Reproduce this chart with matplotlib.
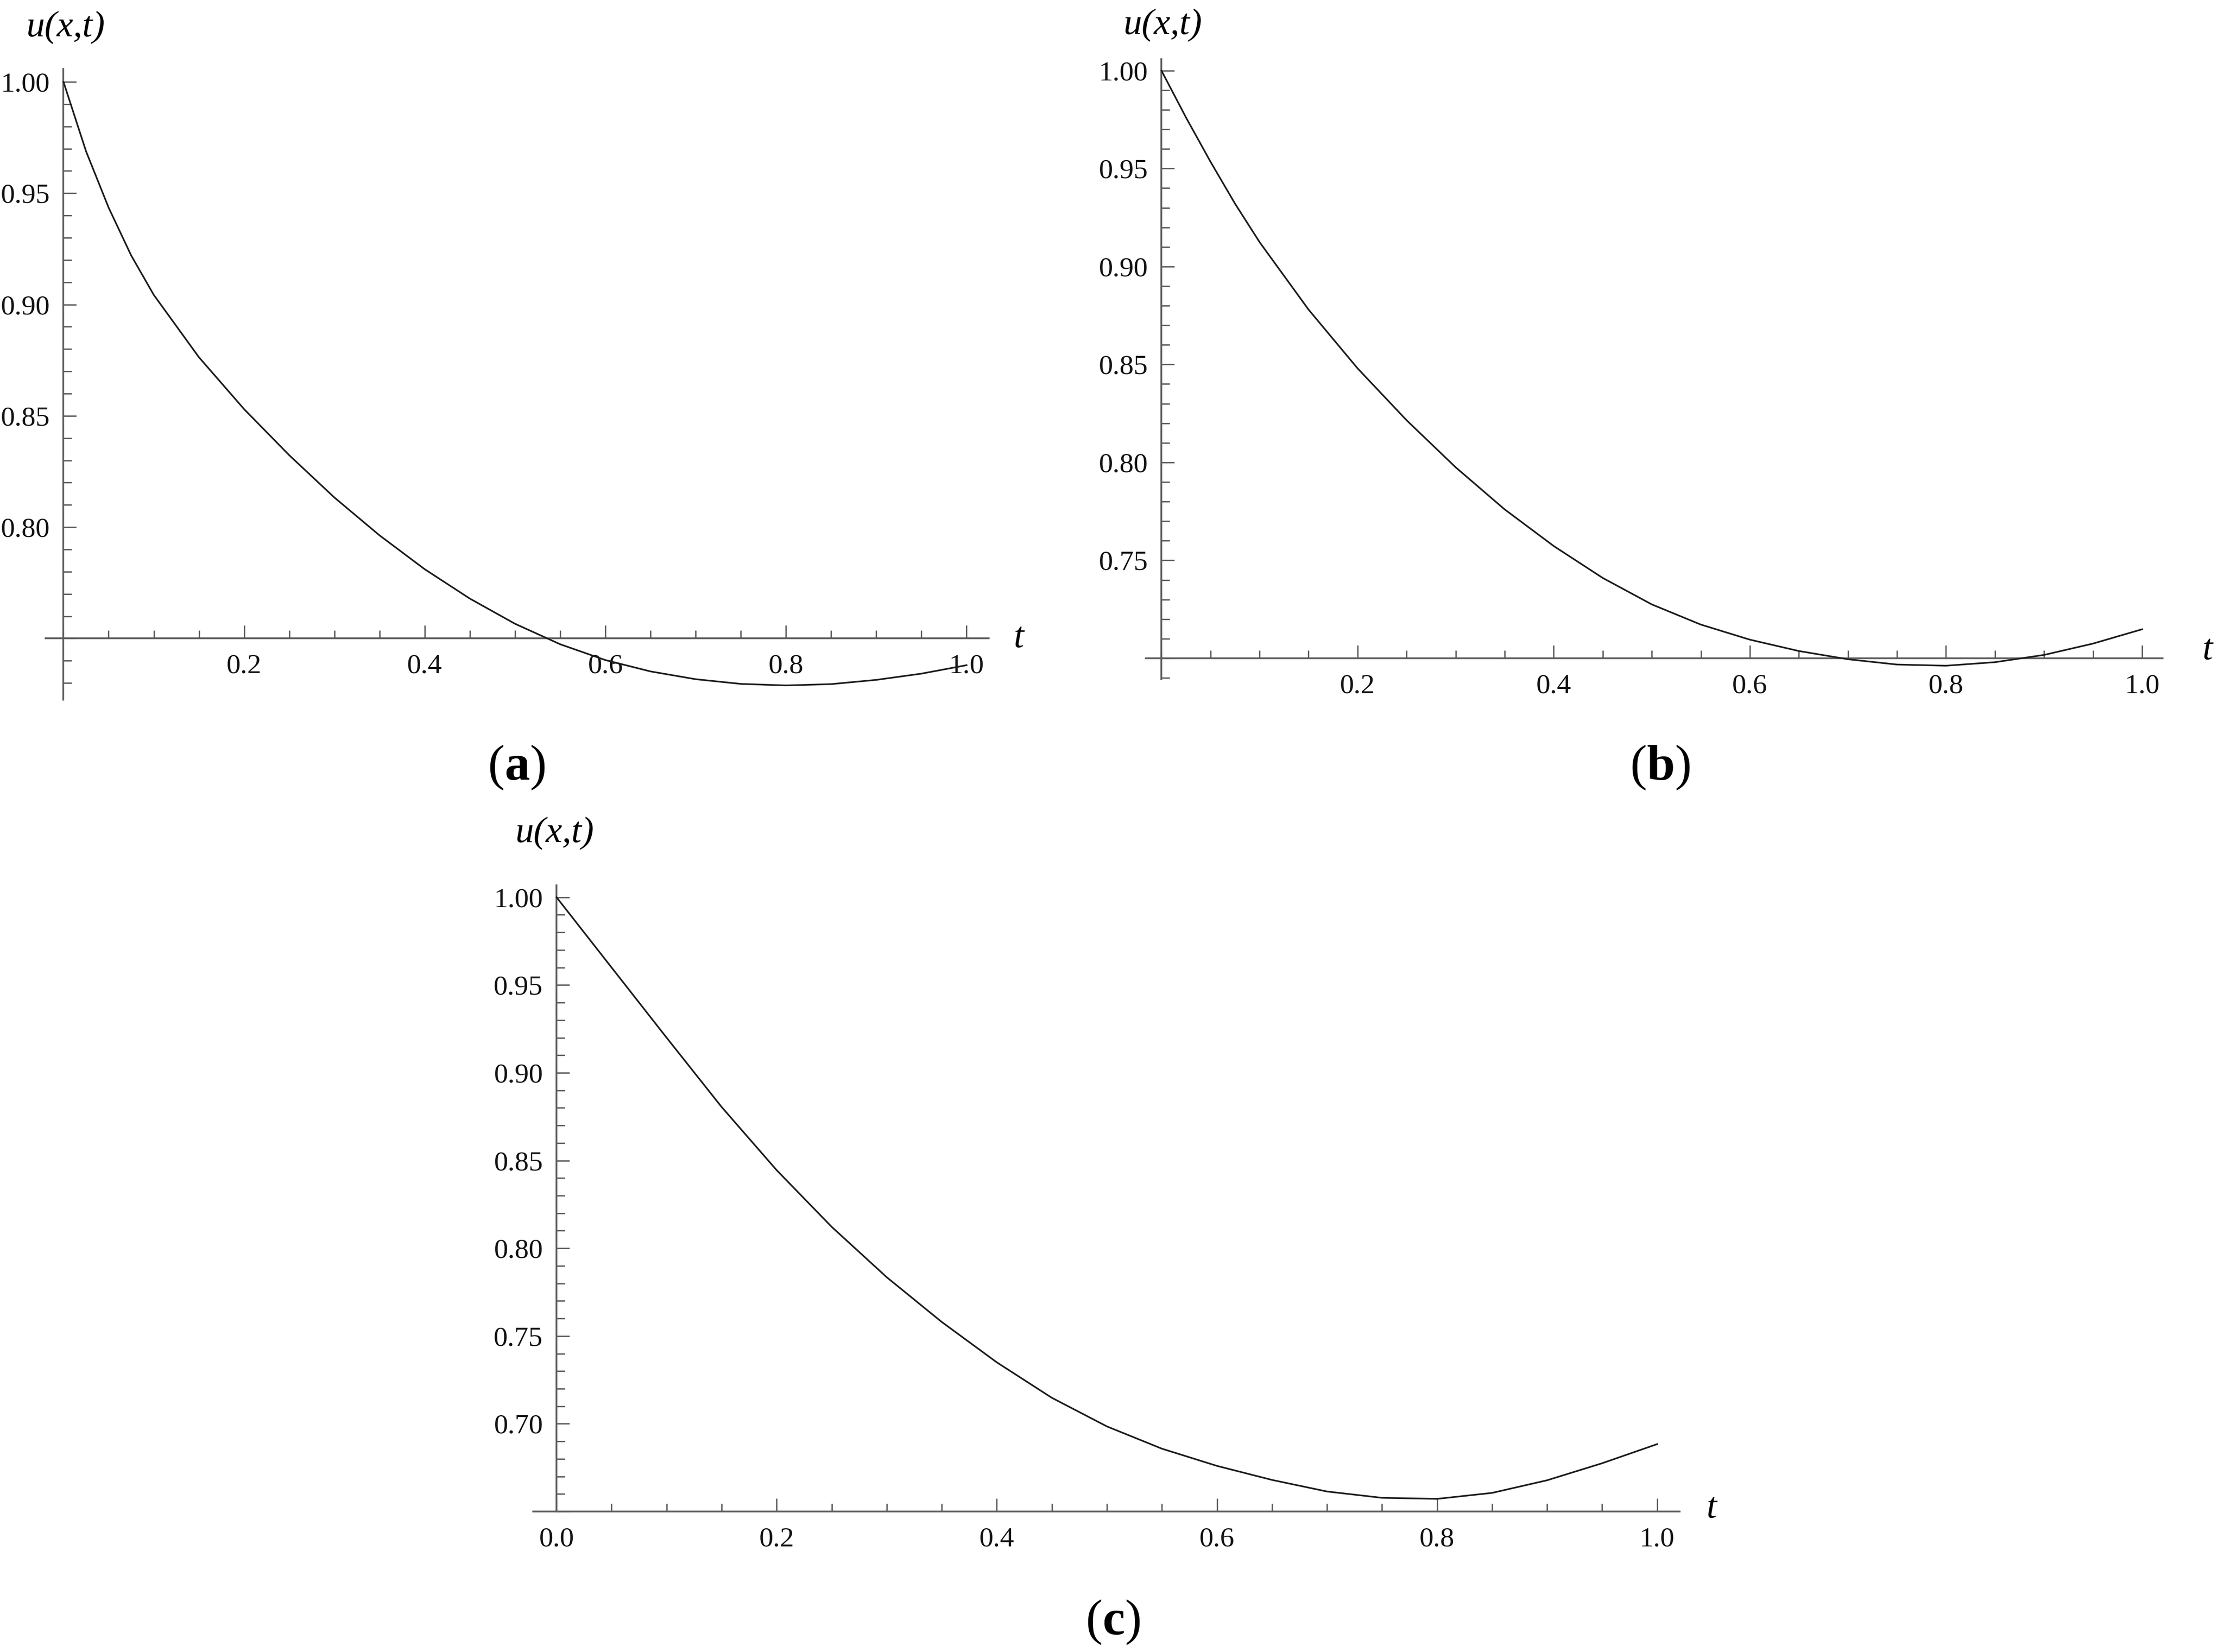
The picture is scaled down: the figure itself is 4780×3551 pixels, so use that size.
import matplotlib
matplotlib.use("Agg")
import matplotlib.pyplot as plt
import numpy as np
from matplotlib.ticker import MultipleLocator

# sample times (same grid for all three panels)
t_vals = [0.0, 0.025, 0.05, 0.075, 0.10, 0.15, 0.20, 0.25, 0.30, 0.35, 0.40, 0.45,
          0.50, 0.55, 0.60, 0.65, 0.70, 0.75, 0.80, 0.85, 0.90, 0.95, 1.00]

# u(x,t)
u_a = [1.000, 0.9688, 0.9435, 0.9220, 0.9043, 0.8763, 0.8530, 0.8323, 0.8133, 0.7963,
       0.7811, 0.7679, 0.7566, 0.7474, 0.7403, 0.7352, 0.7317, 0.7296, 0.7289, 0.7295,
       0.7314, 0.7342, 0.7380]
u_b = [1.000, 0.9761, 0.9535, 0.9321, 0.9125, 0.8780, 0.8480, 0.8215, 0.7975, 0.7760,
       0.7573, 0.7410, 0.7275, 0.7172, 0.7095, 0.7037, 0.6995, 0.6968, 0.6962, 0.6980,
       0.7017, 0.7075, 0.7148]
u_c = [1.000, 0.980, 0.960, 0.940, 0.920, 0.8805, 0.8445, 0.8122, 0.7835, 0.7580,
       0.7350, 0.7148, 0.6985, 0.6858, 0.6760, 0.6680, 0.6614, 0.6578, 0.6572, 0.6606,
       0.6678, 0.6775, 0.6884]

panel_names = ["a", "b", "c"]
x_label = "t"
y_label = "u(x,t)"

W, H = 4780, 3551
AXIS_GRAY = "#5e5e5e"

plt.rcParams['font.family'] = ['Liberation Serif', 'DejaVu Serif']
plt.rcParams['mathtext.fontset'] = 'custom'
plt.rcParams['mathtext.rm'] = 'Liberation Serif'
plt.rcParams['mathtext.bf'] = 'Liberation Serif:bold'
plt.rcParams['mathtext.it'] = 'Liberation Serif:italic'

fig = plt.figure(figsize=(W / 300, H / 300), dpi=300)


def fx(x):
    return x / W


def fy(y):
    return 1 - y / H


def make_panel(box, xlim, ylim, base, u, yticks, xticks, show_zero):
    # box is (left, top, right, bottom) in pixels
    left, top, right, bottom = box
    ax = fig.add_axes([fx(left), fy(bottom), (right - left) / W, (bottom - top) / H])
    ax.plot(t_vals, u, color='#1c1c1c', lw=0.85, clip_on=False, zorder=3,
            solid_joinstyle='round')
    ax.set_xlim(xlim)
    ax.set_ylim(ylim)
    ax.patch.set_visible(False)

    for s in ['top', 'right']:
        ax.spines[s].set_visible(False)
    ax.spines['left'].set_position(('data', 0))
    ax.spines['bottom'].set_position(('data', base))
    for s in ['left', 'bottom']:
        ax.spines[s].set_color(AXIS_GRAY)
        ax.spines[s].set_linewidth(0.9)

    ax.set_xticks(xticks)
    ax.set_xticklabels(['%.1f' % v if (v > 0 or show_zero) else '' for v in xticks])
    ax.set_yticks(yticks)
    ax.set_yticklabels(['%.2f' % v if abs(v - base) > 1e-9 else '' for v in yticks])
    ax.xaxis.set_minor_locator(MultipleLocator(0.05))
    ax.yaxis.set_minor_locator(MultipleLocator(0.01))

    ax.tick_params(which='both', direction='in', color=AXIS_GRAY, width=0.7,
                   labelsize=14.5, labelcolor='#111111')
    ax.tick_params(which='major', length=6.7)
    ax.tick_params(which='minor', length=4.2)
    ax.tick_params(axis='x', pad=8)
    ax.tick_params(axis='y', pad=7)
    return ax


# panel (a)
make_panel((98, 147.7, 2125, 1504), (-0.0198, 1.0245), (0.7225, 1.0059), 0.75, u_a,
           [0.75, 0.80, 0.85, 0.90, 0.95, 1.00], [0.2, 0.4, 0.6, 0.8, 1.0], False)
# panel (b)
make_panel((2463, 127, 4648, 1460), (-0.0158, 1.0209), (0.6893, 1.0059), 0.70, u_b,
           [0.70, 0.75, 0.80, 0.85, 0.90, 0.95, 1.00], [0.2, 0.4, 0.6, 0.8, 1.0], False)
# panel (c)
make_panel((1146, 1902.7, 3610, 3249), (-0.0212, 1.0204), (0.65, 1.0069), 0.65, u_c,
           [0.65, 0.70, 0.75, 0.80, 0.85, 0.90, 0.95, 1.00],
           [0.0, 0.2, 0.4, 0.6, 0.8, 1.0], True)

# axis names
for (xp, yp) in [(141, 60), (2499, 55), (1192, 1792)]:
    fig.text(fx(xp), fy(yp), y_label, ha='center', va='center',
             fontsize=19, fontstyle='italic')
for (xp, yp) in [(2190, 1372), (4745, 1398), (3679, 3243)]:
    fig.text(fx(xp), fy(yp), x_label, ha='center', va='center',
             fontsize=19, fontstyle='italic')

# panel letters
for name, (xp, yp) in zip(panel_names, [(1110, 1650), (3568, 1650), (2392, 3487)]):
    fig.text(fx(xp), fy(yp), r'($\mathbf{%s}$)' % name, ha='center', va='center',
             fontsize=26)

fig.savefig("out.png", dpi=300, facecolor='white')
